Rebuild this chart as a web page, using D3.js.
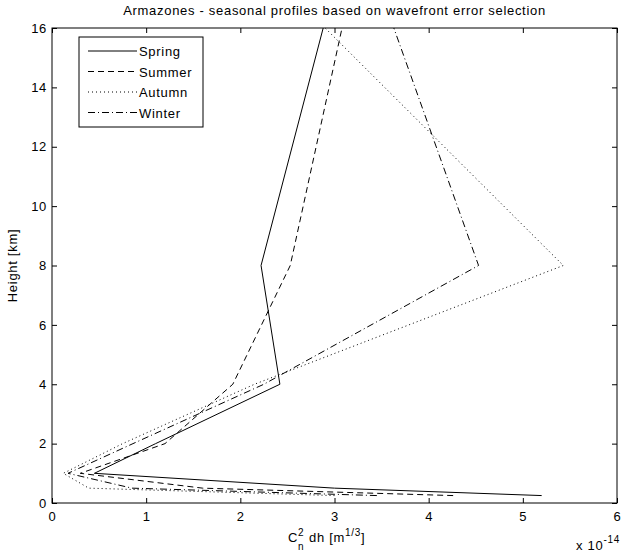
<!DOCTYPE html>
<html>
<head>
<meta charset="utf-8">
<script src="https://cdn.jsdelivr.net/npm/d3@7"></script>
<style>
  body { margin: 0; background: #fff; }
  text { font-family: "Liberation Sans", Arial, sans-serif; fill: #000; letter-spacing: 0.7px; }
</style>
</head>
<body>
<svg width="622" height="559"></svg>
<script>
// profile heights in km
const heights = [0.25, 0.5, 1, 2, 4, 8, 16];
// Cn2 dh, units of 1e-14 m^(1/3)
const spring = [5.2, 3.0, 0.45, 1.1, 2.42, 2.22, 2.88];
const summer = [4.26, 1.6, 0.3, 1.2, 1.92, 2.53, 3.08];
const autumn = [3.0, 0.39, 0.12, 0.75, 2.15, 5.43, 2.9];
const winter = [3.45, 0.85, 0.17, 0.86, 2.25, 4.53, 3.63];
const seasons = ['Spring', 'Summer', 'Autumn', 'Winter'];
const xTicks = [0, 1, 2, 3, 4, 5, 6];
const yTicks = [0, 2, 4, 6, 8, 10, 12, 14, 16];

const series = [spring, summer, autumn, winter];
const dashes = ['none', '6,4', '1,3', '7,3,1,3'];

const svg = d3.select('svg');
const margin = {top: 28, right: 5, bottom: 56, left: 52};
const width = +svg.attr('width');
const height = +svg.attr('height');
const innerWidth = width - margin.left - margin.right;
const innerHeight = height - margin.top - margin.bottom;

const xScale = d3.scaleLinear().domain([0, 6]).range([0, innerWidth]);
const yScale = d3.scaleLinear().domain([0, 16]).range([innerHeight, 0]);

const g = svg.append('g')
  .attr('transform', `translate(${margin.left}, ${margin.top})`);

// inward ticks on all four sides, like matlab
const axisStyle = sel => {
  sel.attr('font-size', 13)
    .attr('font-family', '"Liberation Sans", Arial, sans-serif')
    .attr('fill', '#000');
  sel.select('.domain').remove();
  sel.selectAll('line').attr('stroke', '#000');
};
const noLabels = sel => sel.selectAll('.tick text').remove();

g.append('g').attr('transform', `translate(0, ${innerHeight})`)
  .call(d3.axisBottom(xScale).tickValues(xTicks).tickFormat(d3.format('d'))
    .tickSizeInner(-5).tickSizeOuter(0).tickPadding(9))
  .call(axisStyle);
g.append('g')
  .call(d3.axisLeft(yScale).tickValues(yTicks).tickFormat(d3.format('d'))
    .tickSizeInner(-5).tickSizeOuter(0).tickPadding(5))
  .call(axisStyle);
g.append('g')
  .call(d3.axisTop(xScale).tickValues(xTicks).tickSizeInner(-5).tickSizeOuter(0))
  .call(noLabels).call(axisStyle);
g.append('g').attr('transform', `translate(${innerWidth}, 0)`)
  .call(d3.axisRight(yScale).tickValues(yTicks).tickSizeInner(-5).tickSizeOuter(0))
  .call(noLabels).call(axisStyle);

g.append('rect')
  .attr('width', innerWidth).attr('height', innerHeight)
  .attr('fill', 'none').attr('stroke', '#000');

const line = d3.line()
  .x(d => xScale(d[0]))
  .y(d => yScale(d[1]));

g.append('g')
  .selectAll('path').data(series)
  .enter().append('path')
  .attr('d', s => line(s.map((v, i) => [v, heights[i]])))
  .attr('fill', 'none')
  .attr('stroke', '#000')
  .attr('stroke-width', 1)
  .attr('stroke-dasharray', (s, i) => dashes[i]);

// legend
const legend = g.append('g').attr('transform', 'translate(27, 9)');
legend.append('rect')
  .attr('width', 124).attr('height', 90)
  .attr('fill', '#fff').attr('stroke', '#000');
seasons.forEach((name, i) => {
  const y = 14 + i * 20.5;
  legend.append('line')
    .attr('x1', 9).attr('x2', 58).attr('y1', y).attr('y2', y)
    .attr('stroke', '#000').attr('stroke-dasharray', dashes[i]);
  legend.append('text')
    .attr('x', 60).attr('y', y + 5)
    .style('font-size', '13px')
    .text(name);
});

// title and labels
svg.append('text')
  .attr('x', margin.left + innerWidth / 2).attr('y', 15)
  .attr('text-anchor', 'middle')
  .style('font-size', '13px')
  .text('Armazones - seasonal profiles based on wavefront error selection');

svg.append('text')
  .attr('transform', `translate(17, ${margin.top + innerHeight / 2}) rotate(-90)`)
  .attr('text-anchor', 'middle')
  .style('font-size', '13px')
  .text('Height [km]');

const xl = svg.append('g').attr('transform', 'translate(288, 542)');
xl.append('text').attr('x', 0).attr('y', 0).style('font-size', '13px').text('C');
xl.append('text').attr('x', 10).attr('y', -6).style('font-size', '10px').text('2');
xl.append('text').attr('x', 10).attr('y', 8).style('font-size', '10px').text('n');
const xt = xl.append('text').attr('x', 21).attr('y', 0).style('font-size', '13px');
xt.append('tspan').text('dh [m');
xt.append('tspan').attr('dy', -6).style('font-size', '10px').text('1/3');
xt.append('tspan').attr('dy', 6).text(']');

const ex = svg.append('text').attr('x', 576).attr('y', 550).style('font-size', '13px');
ex.append('tspan').text('x 10');
ex.append('tspan').attr('dy', -7).style('font-size', '10px').text('-14');
</script>
</body>
</html>
